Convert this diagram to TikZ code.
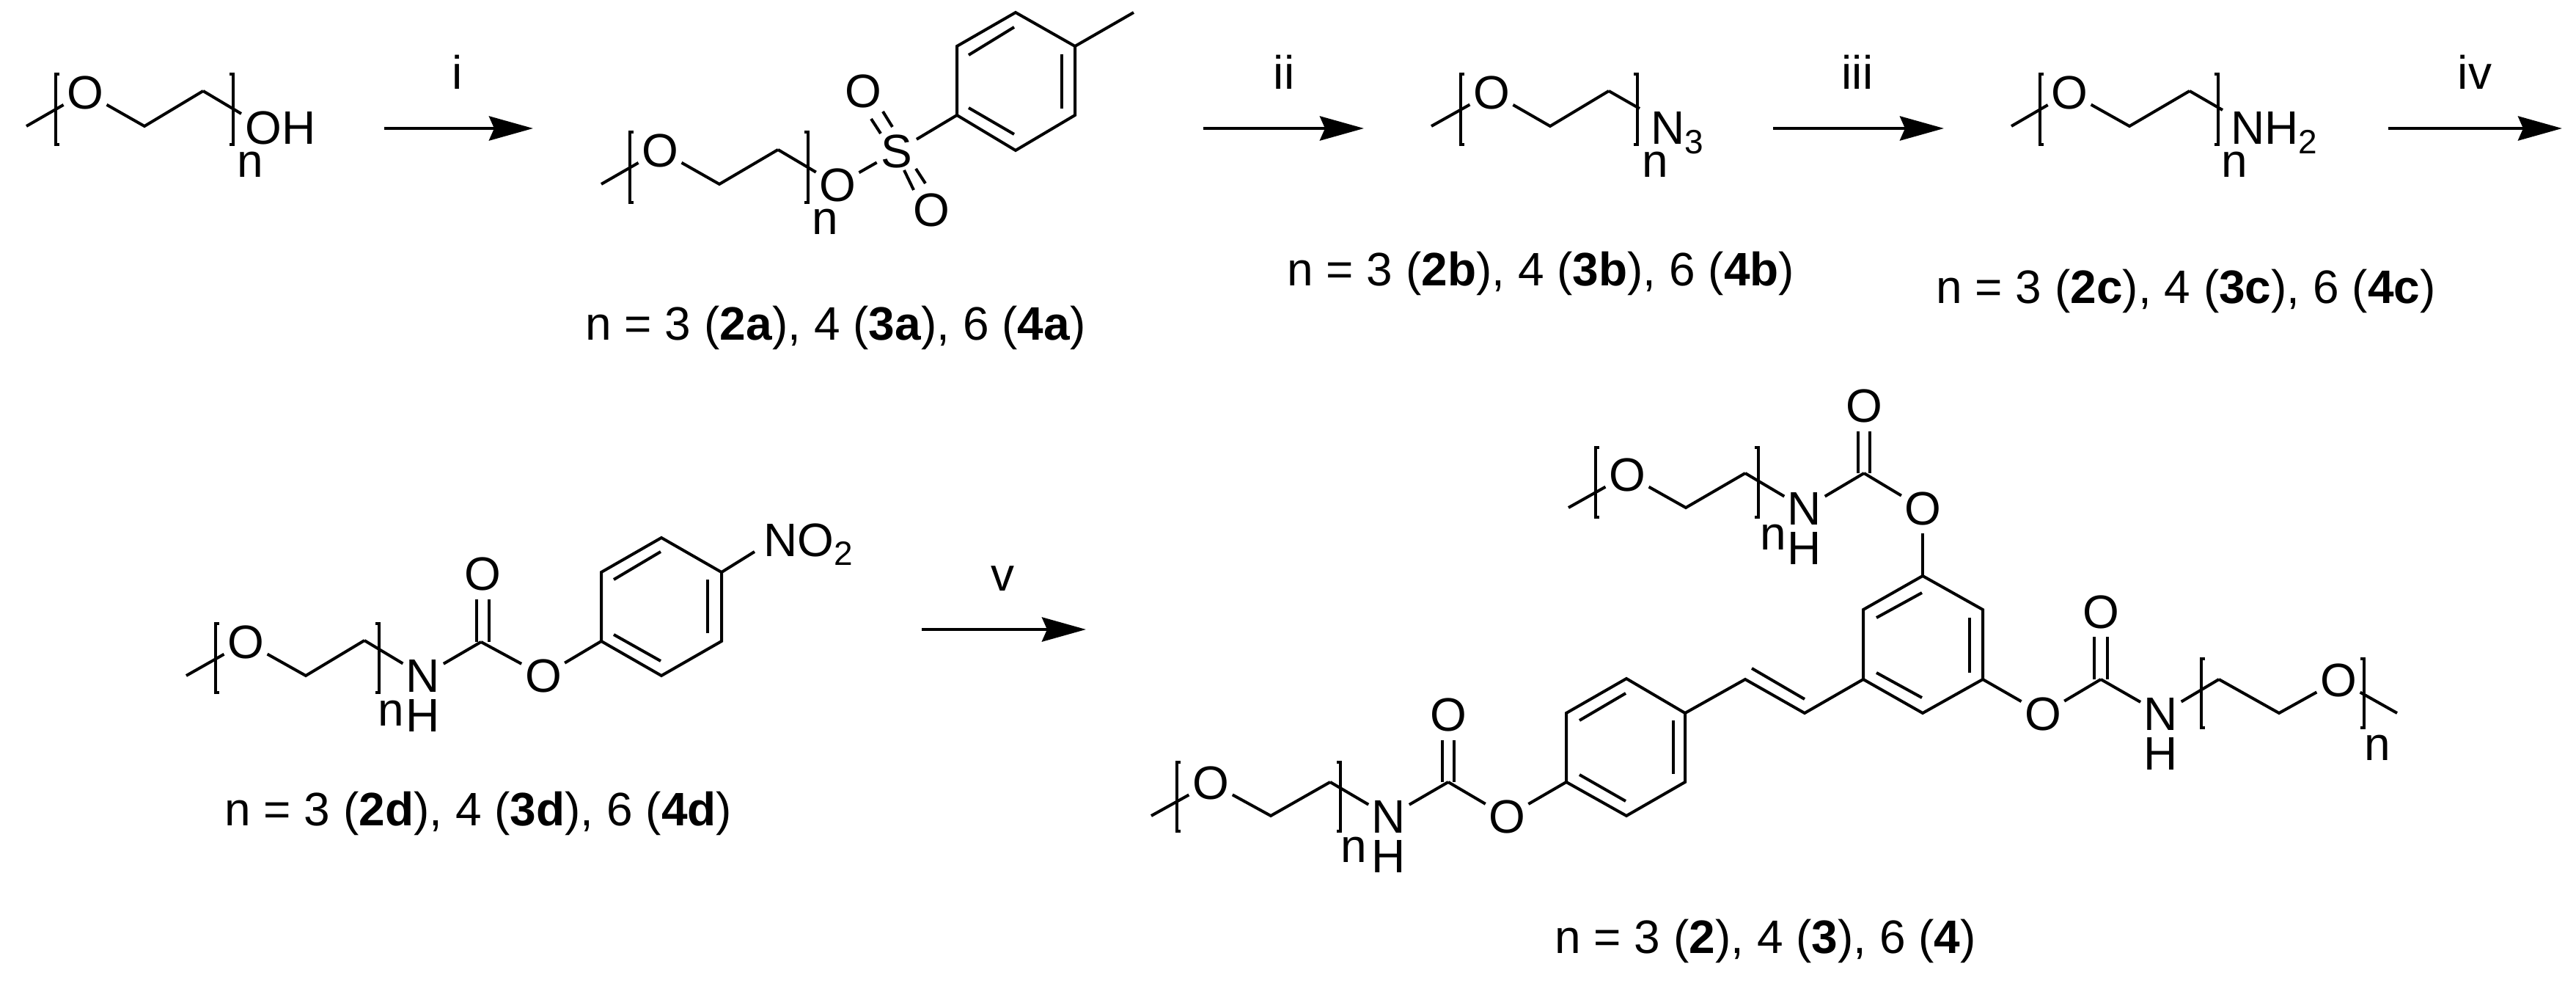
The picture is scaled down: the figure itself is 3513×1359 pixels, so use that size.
\documentclass[tikz,border=0pt]{standalone}
\usepackage{fontspec}
\setmainfont{Liberation Sans}
\usetikzlibrary{arrows.meta}
\newcommand{\subn}[1]{\raisebox{-6pt}{\fontsize{23}{26}\selectfont #1}}
\tikzset{
  every node/.style={font=\fontsize{32}{36}\selectfont,inner sep=0pt,text=black},
  atomc/.style={circle,inner sep=0pt},
  txtb/.style={anchor=base},
  txtw/.style={anchor=base west},
  bond/.style={line width=2pt,line join=miter,line cap=butt,black},
  brk/.style={line width=1.7pt,black},
  rxn/.style={line width=2.4pt,black,-{Stealth[length=30pt,width=16.5pt,inset=3.5pt]}},
}
% PEG unit: prefix, end carbon, O, C, C, left x, right x, top y, bottom y
\newcommand{\peg}[9]{%
  \coordinate (#1m) at #2;
  \node[atomc] (#1O) at #3 {O};
  \coordinate (#1a) at #4;
  \coordinate (#1b) at #5;
  \draw[bond] (#1m) -- (#1O) -- (#1a) -- (#1b);
  \draw[brk] (#6+5,#8) -- (#6,#8) -- (#6,#9) -- (#6+5,#9);
  \draw[brk] (#7-5,#8) -- (#7,#8) -- (#7,#9) -- (#7-5,#9);
}
% benzene ring outline
\newcommand{\ringsix}[7]{%
  \coordinate (#11) at #2; \coordinate (#12) at #3; \coordinate (#13) at #4;
  \coordinate (#14) at #5; \coordinate (#15) at #6; \coordinate (#16) at #7;
  \draw[bond] (#11) -- (#12) -- (#13) -- (#14) -- (#15) -- (#16) -- cycle;
}
% extra line of a double bond
\newcommand{\dbl}[3]{%
  \coordinate (#1s) at #2; \coordinate (#1e) at #3;
  \draw[bond] (#1s) -- (#1e);
}
\begin{document}
\begin{tikzpicture}[x=0.5pt,y=-0.5pt]
\useasboundingbox (0,0) rectangle (3513,1359);

% --- compound 1: OH
\peg{p}{(36,172)}{(116,126)}{(197,172)}{(277,124)}{76}{318}{101}{197}
\coordinate (pe) at (329,155);
\draw[bond] (pb) -- (pe);
\node[txtw] (oh) at (334,196) {OH};
\node[txtb] (pn) at (341,241) {n};

% --- arrow i
\coordinate (ai1) at (524,175); \coordinate (ai2) at (727,175);
\draw[rxn] (ai1) -- (ai2);
\node[txtb] (li) at (624,122) {i};

% --- tosylate
\peg{q}{(820,251)}{(900,205)}{(981,251)}{(1061,204)}{859}{1102}{180}{276}
\node[atomc] (qO2) at (1142,252) {O};
\node[atomc] (qS) at (1223,206) {S};
\node[atomc] (qO3) at (1177,124) {O};
\node[atomc] (qO4) at (1270,286) {O};
\node[txtb] (qn) at (1125,319) {n};
\draw[bond] (qb) -- (qO2);
\draw[bond] (qO2) -- (qS);
\ringsix{t}{(1305,157)}{(1385,205)}{(1466,157)}{(1466,63)}{(1385,17)}{(1305,63)}
\draw[bond] (qS) -- (t1);
\coordinate (tme) at (1546,17);
\draw[bond] (t4) -- (tme);
\dbl{td1}{(1321,75)}{(1383,37)}
\dbl{td2}{(1448,74)}{(1448,148)}
\dbl{td3}{(1321,147)}{(1383,183)}
\dbl{so1}{(1188,162)}{(1201,182)}
\dbl{so2}{(1204,152)}{(1217,173)}
\dbl{so3}{(1233,232)}{(1246,259)}
\dbl{so4}{(1249,230)}{(1262,250)}
\node[txtw] (capa) at (798,463) {n = 3 (\textbf{2a}), 4 (\textbf{3a}), 6 (\textbf{4a})};

% --- arrow ii
\coordinate (aii1) at (1641,175); \coordinate (aii2) at (1860,175);
\draw[rxn] (aii1) -- (aii2);
\node[txtb] (lii) at (1751,122) {ii};

% --- azide
\peg{r}{(1952,172)}{(2034,126)}{(2114,172)}{(2194,124)}{1992}{2233}{101}{197}
\coordinate (re) at (2236,148);
\draw[bond] (rb) -- (re);
\node[txtw] (n3) at (2251,197) {N\subn{3}};
\node[txtb] (rn) at (2257,241) {n};
\node[txtw] (capb) at (1755,389) {n = 3 (\textbf{2b}), 4 (\textbf{3b}), 6 (\textbf{4b})};

% --- arrow iii
\coordinate (aiii1) at (2418,175); \coordinate (aiii2) at (2651,175);
\draw[rxn] (aiii1) -- (aiii2);
\node[txtb] (liii) at (2533,122) {iii};

% --- amine
\peg{s}{(2743,172)}{(2822,126)}{(2904,172)}{(2986,124)}{2782}{3025}{101}{197}
\coordinate (se) at (3031,150);
\draw[bond] (sb) -- (se);
\node[txtw] (nh2) at (3042,197) {NH\subn{2}};
\node[txtb] (sn) at (3047,241) {n};
\node[txtw] (capc) at (2640,413) {n = 3 (\textbf{2c}), 4 (\textbf{3c}), 6 (\textbf{4c})};

% --- arrow iv
\coordinate (aiv1) at (3257,175); \coordinate (aiv2) at (3494,175);
\draw[rxn] (aiv1) -- (aiv2);
\node[txtb] (liv) at (3375,122) {iv};

% --- carbonate d
\peg{u}{(254,921)}{(335,875)}{(417,921)}{(497,873)}{294}{517}{850}{944}
\node[atomc] (uN) at (577,921) {N};
\node[txtb] (uH) at (577,997) {H};
\node[txtb] (un) at (533,989) {n};
\draw[bond] (ub) -- (uN);
\coordinate (uc) at (656,875);
\draw[bond] (uN) -- (uc);
\node[atomc] (uO1) at (658,782) {O};
\node[atomc] (uO2) at (741,921) {O};
\dbl{ud1}{(650,875)}{(650,817)}
\dbl{ud2}{(667,875)}{(667,817)}
\draw[bond] (uc) -- (uO2);
\ringsix{v}{(820,874)}{(902,921)}{(984,874)}{(984,780)}{(902,733)}{(820,780)}
\draw[bond] (uO2) -- (v1);
\dbl{vd1}{(837,790)}{(901,752)}
\dbl{vd2}{(965,790)}{(965,863)}
\dbl{vd3}{(837,865)}{(901,901)}
\coordinate (vn) at (1029,752);
\draw[bond] (v4) -- (vn);
\node[txtw] (no2) at (1041,758) {NO\subn{2}};
\node[txtw] (capd) at (306,1125) {n = 3 (\textbf{2d}), 4 (\textbf{3d}), 6 (\textbf{4d})};

% --- arrow v
\coordinate (av1) at (1257,858); \coordinate (av2) at (1481,858);
\draw[rxn] (av1) -- (av2);
\node[txtb] (lv) at (1367,805) {v};

% --- final product: lower left arm
\peg{w}{(1570,1112)}{(1651,1067)}{(1733,1112)}{(1814,1066)}{1605}{1828}{1039}{1133}
\node[atomc] (wN) at (1894,1113) {N};
\node[txtb] (wH) at (1894,1189) {H};
\node[txtb] (wn) at (1846,1175) {n};
\draw[bond] (wb) -- (wN);
\coordinate (wc) at (1975,1066);
\draw[bond] (wN) -- (wc);
\node[atomc] (wO1) at (1975,974) {O};
\node[atomc] (wO2) at (2055,1113) {O};
\dbl{wd1}{(1967,1066)}{(1967,1009)}
\dbl{wd2}{(1983,1066)}{(1983,1009)}
\draw[bond] (wc) -- (wO2);
\ringsix{x}{(2136,1066)}{(2218,1112)}{(2298,1066)}{(2298,972)}{(2218,925)}{(2136,972)}
\draw[bond] (wO2) -- (x1);
\dbl{xd1}{(2154,982)}{(2217,945)}
\dbl{xd2}{(2282,982)}{(2282,1055)}
\dbl{xd3}{(2154,1056)}{(2217,1092)}

% --- vinylene
\ringsix{y}{(2541,926)}{(2622,972)}{(2704,926)}{(2704,831)}{(2622,785)}{(2541,831)}
\coordinate (vi1) at (2380,926); \coordinate (vi2) at (2461,972);
\draw[bond] (x4) -- (vi1) -- (vi2) -- (y1);
\dbl{vid}{(2389,911)}{(2461,953)}
\dbl{yd1}{(2559,842)}{(2621,808)}
\dbl{yd2}{(2686,842)}{(2686,917)}
\dbl{yd3}{(2559,917)}{(2621,951)}

% --- top arm
\peg{k}{(2139,692)}{(2219,647)}{(2299,692)}{(2380,645)}{2176}{2398}{610}{705}
\node[atomc] (kN) at (2461,693) {N};
\node[txtb] (kH) at (2461,769) {H};
\node[txtb] (kn) at (2418,749) {n};
\draw[bond] (kb) -- (kN);
\coordinate (kc) at (2542,645);
\draw[bond] (kN) -- (kc);
\node[atomc] (kO1) at (2542,553) {O};
\node[atomc] (kO2) at (2622,693) {O};
\dbl{kd1}{(2534,645)}{(2534,588)}
\dbl{kd2}{(2550,645)}{(2550,588)}
\draw[bond] (kc) -- (kO2);
\draw[bond] (kO2) -- (y5);

% --- right arm
\node[atomc] (lO2) at (2786,973) {O};
\draw[bond] (y3) -- (lO2);
\coordinate (lc) at (2865,926);
\draw[bond] (lO2) -- (lc);
\node[atomc] (lO1) at (2865,834) {O};
\dbl{ld1}{(2856,926)}{(2856,868)}
\dbl{ld2}{(2874,926)}{(2874,868)}
\node[atomc] (lN) at (2947,973) {N};
\node[txtb] (lH) at (2947,1049) {H};
\draw[bond] (lc) -- (lN);
\peg{m}{(3269,972)}{(3189,927)}{(3108,972)}{(3026,926)}{3002}{3224}{898}{992}
\draw[bond] (mb) -- (lN);
\node[txtb] (mn) at (3242,1036) {n};
\node[txtw] (cape) at (2120,1299) {n = 3 (\textbf{2}), 4 (\textbf{3}), 6 (\textbf{4})};
\end{tikzpicture}
\end{document}
